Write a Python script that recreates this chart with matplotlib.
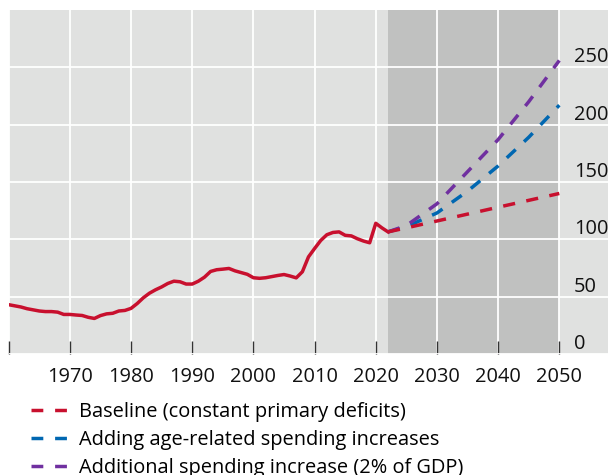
import matplotlib
matplotlib.use("Agg")
import matplotlib.pyplot as plt
from matplotlib.lines import Line2D

plt.rcParams['font.family'] = ['Open Sans', 'DejaVu Sans']

# Historical debt (% of GDP)
hist_years = list(range(1960, 2023))
hist_values = [43, 42, 41, 39.5, 38.5, 37.5, 37, 37, 36.5, 34.5,
               34.5, 34, 33.6, 32, 31, 33.5, 35, 35.5, 37.5, 38,
               39.8, 44, 49, 53, 56, 58.5, 61.5, 63.5, 63, 61,
               61, 63.5, 67, 72, 73.5, 74, 74.6, 72.5, 71, 69.5,
               66.5, 66, 66.5, 67.5, 68.5, 69.3, 68, 66.4, 71.7, 84.7,
               92, 99, 104, 106, 106.5, 103.5, 103, 100.5, 98.5, 97,
               114, 110, 106.5]

# Projections
proj_years = [2022, 2025, 2030, 2035, 2040, 2045, 2050]
baseline = [106.5, 110, 116, 122, 128, 134, 140]
age_related = [106.5, 111, 123, 142, 164, 189, 217]
additional = [106.5, 112, 131, 159, 187, 220, 256]

labels = ["Baseline (constant primary deficits)",
          "Adding age-related spending increases",
          "Additional spending increase (2% of GDP)"]
colors = ["#c8102e", "#0067b1", "#7030a0"]

x_ticks = list(range(1960, 2051, 10))
x_ticklabels = [""] + [str(y) for y in range(1970, 2051, 10)]
y_ticks = [0, 50, 100, 150, 200, 250]

W, H = 608, 475
fig = plt.figure(figsize=(W / 100, H / 100), dpi=100)
left_px, right_px, top_px, bot_px = 8.7, 608, 10, 354
ax = fig.add_axes([left_px / W, 1 - bot_px / H, (right_px - left_px) / W, (bot_px - top_px) / H])
ax.set_facecolor("#e0e1e0")
ax.axvspan(2022, 2050, color="#c0c1c0", zorder=0, lw=0)

ax.set_xlim(1960, 1960 + (right_px - left_px) / 6.118)
ax.set_ylim(0, 300)

for s in ax.spines.values():
    s.set_visible(False)

ax.set_xticks(x_ticks)
ax.set_xticklabels(x_ticklabels)
ax.set_yticks(y_ticks)
ax.set_yticklabels([str(v) for v in y_ticks])
ax.grid(True, color="white", lw=1.3, zorder=1)
ax.set_axisbelow(True)

ax.tick_params(axis='x', direction='in', length=9.5, width=1.0, color="#333333",
               labelsize=14.4, pad=9.5, labelcolor="#111111")
ax.yaxis.tick_right()
ax.tick_params(axis='y', length=0, labelsize=14.4, pad=-24.5, labelcolor="#111111")
for lbl in ax.get_yticklabels():
    lbl.set_horizontalalignment('left')
    lbl.set_verticalalignment('bottom')

lw = 2.5
ax.plot(hist_years, hist_values, color=colors[0], lw=lw, zorder=5, solid_joinstyle='round')
dash = (3.5, 3.3)
ax.plot(proj_years, age_related, color=colors[1], lw=lw, dashes=dash, zorder=4)
ax.plot(proj_years, additional, color=colors[2], lw=lw, dashes=dash, zorder=5)
ax.plot(proj_years, baseline, color=colors[0], lw=lw, dashes=dash, zorder=6)

handles = [Line2D([0], [0], color=c, lw=lw, dashes=(3.4, 3.4)) for c in colors]
fig.legend(handles, labels, loc='upper left', bbox_to_anchor=(31 / W, 1 - 402 / H),
           frameon=False, fontsize=14.4, handlelength=1.8, handletextpad=0.6,
           labelspacing=0.39, borderaxespad=0, borderpad=0)

fig.savefig("out.png", dpi=100)
